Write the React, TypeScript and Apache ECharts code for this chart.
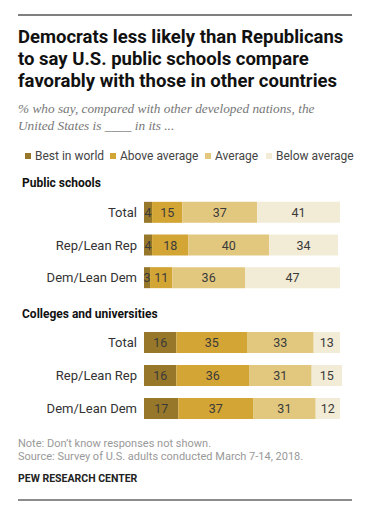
import React, { useEffect, useRef } from "react";
import * as echarts from "echarts";

const categories = ["Total", "Rep/Lean Rep", "Dem/Lean Dem"];
const seriesNames = ["Best in world", "Above average", "Average", "Below average"];
const colors = ["#977729", "#d2a535", "#e2c87f", "#f2ebd5"];

const publicBest = [4, 4, 3];
const publicAbove = [15, 18, 11];
const publicAverage = [37, 40, 36];
const publicBelow = [41, 34, 47];

const collegeBest = [16, 16, 17];
const collegeAbove = [35, 36, 37];
const collegeAverage = [33, 31, 31];
const collegeBelow = [13, 15, 12];

const titleLines = [
  "Democrats less likely than Republicans",
  "to say U.S. public schools compare",
  "favorably with those in other countries",
];
const subtitleLines = [
  "% who say, compared with other developed nations, the",
  "United States is ____ in its ...",
];
const noteLines = [
  "Note: Don\u2019t know responses not shown.",
  "Source: Survey of U.S. adults conducted March 7-14, 2018.",
];

export default function App() {
  const ref = useRef<HTMLDivElement>(null);
  useEffect(() => {
    if (!ref.current) return;
    const chart = echarts.init(ref.current, undefined, { renderer: "svg" });
    const font = "Roboto, 'Liberation Sans', sans-serif";
    const pubData = [publicBest, publicAbove, publicAverage, publicBelow];
    const colData = [collegeBest, collegeAbove, collegeAverage, collegeBelow];
    const mkSeries = (data: number[][], idx: number) =>
      data.map((d, i) => ({
        type: "bar",
        name: seriesNames[i],
        stack: "s" + idx,
        xAxisIndex: idx,
        yAxisIndex: idx,
        barWidth: 21,
        data: d,
        itemStyle: { color: colors[i] },
        label: {
          show: true,
          position: "inside",
          color: "#3a3a3a",
          fontSize: 12.5,
          fontFamily: font,
        },
      }));
    const yAxis = (idx: number) => ({
      type: "category",
      gridIndex: idx,
      data: categories,
      inverse: true,
      axisLine: { show: false },
      axisTick: { show: false },
      axisLabel: { color: "#333", fontSize: 13, fontFamily: font, margin: 7 },
    });
    const xAxis = (idx: number) => ({
      type: "value",
      gridIndex: idx,
      min: 0,
      max: 100,
      show: false,
    });
    const graphics: any[] = [
      { type: "line", shape: { x1: 18, y1: 15, x2: 352, y2: 15 }, style: { stroke: "#555", lineWidth: 1.5 } },
      { type: "line", shape: { x1: 18, y1: 500, x2: 352, y2: 500 }, style: { stroke: "#666", lineWidth: 1.5 } },
    ];
    titleLines.forEach((t, i) =>
      graphics.push({
        type: "text",
        left: 18,
        top: 27 + i * 22,
        style: { text: t, fill: "#111", font: "bold 18.5px " + font },
      })
    );
    subtitleLines.forEach((t, i) =>
      graphics.push({
        type: "text",
        left: 18,
        top: 102 + i * 17,
        style: { text: t, fill: "#777", font: "italic 13.3px 'Liberation Serif', serif" },
      })
    );
    graphics.push({ type: "text", left: 22, top: 177, style: { text: "Public schools", fill: "#111", font: "bold 12px " + font } });
    graphics.push({ type: "text", left: 22, top: 308, style: { text: "Colleges and universities", fill: "#111", font: "bold 12px " + font } });
    noteLines.forEach((t, i) =>
      graphics.push({
        type: "text",
        left: 18,
        top: 438 + i * 13,
        style: { text: t, fill: "#999", font: "11px " + font },
      })
    );
    graphics.push({ type: "text", left: 18, top: 473, style: { text: "PEW RESEARCH CENTER", fill: "#222", font: "bold 10.5px " + font } });

    const legendLefts = [25, 110, 205, 266];
    const legends = seriesNames.map((n, i) => ({
      left: legendLefts[i],
      top: 150,
      padding: 0,
      itemWidth: 6,
      itemHeight: 6,
      icon: "rect",
      data: [n],
      textStyle: { color: "#444", fontSize: 12, fontFamily: font, padding: [0, 0, 0, -1] },
    }));

    chart.setOption({
      animation: false,
      backgroundColor: "#fff",
      legend: legends,
      grid: [
        { left: 144, top: 196, width: 202, height: 98 },
        { left: 144, top: 326, width: 202, height: 99 },
      ],
      xAxis: [xAxis(0), xAxis(1)],
      yAxis: [yAxis(0), yAxis(1)],
      series: [...mkSeries(pubData, 0), ...mkSeries(colData, 1)],
      graphic: graphics,
    });
    return () => chart.dispose();
  }, []);
  return (
    <div
      ref={ref}
      style={{ position: "fixed", left: 0, top: 0, width: 367, height: 512 }}
    />
  );
}
